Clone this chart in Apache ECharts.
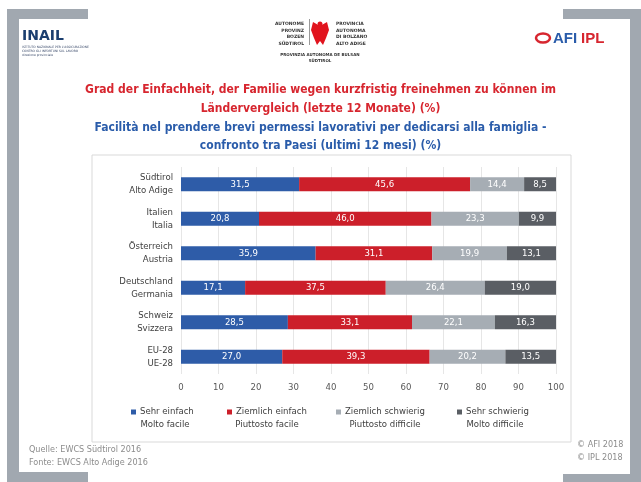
<!DOCTYPE html>
<html><head><meta charset="utf-8">
<script src="https://cdn.jsdelivr.net/npm/echarts@6/dist/echarts.min.js"></script>
<style>html,body{margin:0;padding:0;background:#fff}#c{width:641px;height:482px}</style>
</head><body><div id="c"></div>
<script>
const categories = ['Südtirol\nAlto Adige','Italien\nItalia','Österreich\nAustria','Deutschland\nGermania','Schweiz\nSvizzera','EU-28\nUE-28'];
const seriesNamesDe = ['Sehr einfach','Ziemlich einfach','Ziemlich schwierig','Sehr schwierig'];
const seriesNamesIt = ['Molto facile','Piuttosto facile','Piuttosto difficile','Molto difficile'];
const sehrEinfach = [31.5, 20.8, 35.9, 17.1, 28.5, 27.0];
const ziemlichEinfach = [45.6, 46.0, 31.1, 37.5, 33.1, 39.3];
const ziemlichSchwierig = [14.4, 23.3, 19.9, 26.4, 22.1, 20.2];
const sehrSchwierig = [8.5, 9.9, 13.1, 19.0, 16.3, 13.5];
const xTicks = [0,10,20,30,40,50,60,70,80,90,100];

const FONT = "'DejaVu Sans Condensed', 'Noto Sans', sans-serif";
const colors = ['#2e5ca8','#cc1f2a','#a6adb4','#5a5e64'];
const values = [sehrEinfach, ziemlichEinfach, ziemlichSchwierig, sehrSchwierig];

const chart = echarts.init(document.getElementById('c'), null, {renderer:'canvas'});

const series = values.map((v,i)=>({
  name: seriesNamesDe[i], type:'bar', stack:'all', data:v, barWidth:14,
  itemStyle:{color:colors[i]},
  label:{show:true, position:'inside', color:'#fff', fontFamily:FONT, fontSize:9.5,
    formatter:p=>p.value.toFixed(1).replace('.',',')}
}));

const legendX = [131, 227, 336, 457];
const legends = seriesNamesDe.map((n,i)=>({
  data:[n], left:legendX[i], top:407, padding:0, itemWidth:5, itemHeight:5, itemGap:4, icon:'rect',
  selectedMode:false,
  textStyle:{fontFamily:FONT, fontSize:9.5, color:'#404040', padding:[0,0,0,-1]}
}));
const itCenters = [165, 267, 385, 495];

const gray = '#a1a8b0';
const graphic = [
  {type:'rect', shape:{x:7,y:9,width:12,height:473}, style:{fill:gray}},
  {type:'rect', shape:{x:7,y:9,width:81,height:10}, style:{fill:gray}},
  {type:'rect', shape:{x:7,y:472,width:81,height:10}, style:{fill:gray}},
  {type:'rect', shape:{x:630,y:9,width:11,height:473}, style:{fill:gray}},
  {type:'rect', shape:{x:563,y:9,width:78,height:10}, style:{fill:gray}},
  {type:'rect', shape:{x:563,y:474,width:78,height:8}, style:{fill:gray}},
  {type:'rect', shape:{x:92,y:155,width:479,height:287}, style:{fill:'none', stroke:'#d9d9d9', lineWidth:1}},
  {type:'text', style:{x:22,y:29,text:'INAIL', fill:'#1b3e6f', font:"bold 14px 'DejaVu Sans'", letterSpacing:1}},
  {type:'text', style:{x:22,y:46,text:'ISTITUTO NAZIONALE PER L\'ASSICURAZIONE', fill:'#3a4a6a', font:"3px 'DejaVu Sans'"}},
  {type:'text', style:{x:22,y:50,text:'CONTRO GLI INFORTUNI SUL LAVORO', fill:'#3a4a6a', font:"3px 'DejaVu Sans'"}},
  {type:'text', style:{x:22,y:54,text:'direzione provinciale', fill:'#3a4a6a', font:"3px 'DejaVu Sans'"}},
  {type:'text', style:{x:304,y:21,text:'AUTONOME\nPROVINZ\nBOZEN\nSÜDTIROL', align:'right', fill:'#333', font:"bold 4.5px 'DejaVu Sans'", lineHeight:6.5}},
  {type:'text', style:{x:336,y:21,text:'PROVINCIA\nAUTONOMA\nDI BOLZANO\nALTO ADIGE', align:'left', fill:'#333', font:"bold 4.5px 'DejaVu Sans'", lineHeight:6.5}},
  {type:'text', style:{x:320,y:52,text:'PROVINZIA AUTONOMA DE BULSAN\nSÜDTIROL', align:'center', fill:'#333', font:"bold 4px 'DejaVu Sans'", lineHeight:6}},
  {type:'rect', shape:{x:309,y:19,width:1,height:26}, style:{fill:'#999'}},
  {type:'polygon', shape:{points:[[313,22],[320,26],[327,22],[329,30],[326,38],[323,45],[320,41],[317,45],[314,38],[311,30]]}, style:{fill:'#e1141e'}},
  {type:'circle', shape:{cx:320,cy:24,r:2.5}, style:{fill:'#e1141e'}},
  {type:'ellipse', shape:{cx:543,cy:38,rx:7,ry:4.5}, style:{fill:'none', stroke:'#d7262f', lineWidth:2.5}},
  {type:'text', style:{x:553,y:31,text:'AFI', fill:'#2a5caa', font:"bold 15px 'Liberation Sans'"}},
  {type:'text', style:{x:581,y:31,text:'IPL', fill:'#d7262f', font:"bold 15px 'Liberation Sans'"}},
  {type:'text', style:{x:29,y:443,text:'Quelle: EWCS Südtirol 2016\nFonte: EWCS Alto Adige 2016', fill:'#8c8c8c', font:"9px "+FONT, lineHeight:13}},
  {type:'text', style:{x:577,y:438,text:'© AFI 2018\n© IPL 2018', fill:'#8c8c8c', font:"9px "+FONT, lineHeight:13}},
].concat(seriesNamesIt.map((t,i)=>({type:'text', style:{x:itCenters[i], y:420, text:t, align:'center', fill:'#404040', font:"9.5px "+FONT}})));

chart.setOption({
  animation:false,
  title:[
    {text:'Grad der Einfachheit, der Familie wegen kurzfristig freinehmen zu können im\nLändervergleich (letzte 12 Monate) (%)', left:'center', top:75,
     textStyle:{color:'#d7262f', fontFamily:FONT, fontWeight:'bold', fontSize:12, lineHeight:19}},
    {text:'Facilità nel prendere brevi permessi lavorativi per dedicarsi alla famiglia -\nconfronto tra Paesi (ultimi 12 mesi) (%)', left:'center', top:114,
     textStyle:{color:'#2a5caa', fontFamily:FONT, fontWeight:'bold', fontSize:12, lineHeight:18}}
  ],
  legend: legends,
  grid:{left:181, width:375, top:167, height:207, containLabel:false},
  xAxis:{type:'value', min:0, max:100, interval:10,
    axisLine:{show:false}, axisTick:{show:false},
    splitLine:{lineStyle:{color:'#e6e6e6'}},
    axisLabel:{color:'#595959', fontFamily:FONT, fontSize:9.5, margin:9}},
  yAxis:{type:'category', data:categories, inverse:true,
    axisLine:{show:false}, axisTick:{show:false},
    axisLabel:{color:'#404040', fontFamily:FONT, fontSize:9.5, lineHeight:13, margin:8, align:'right'}},
  series: series,
  graphic: graphic
});
</script></body></html>
